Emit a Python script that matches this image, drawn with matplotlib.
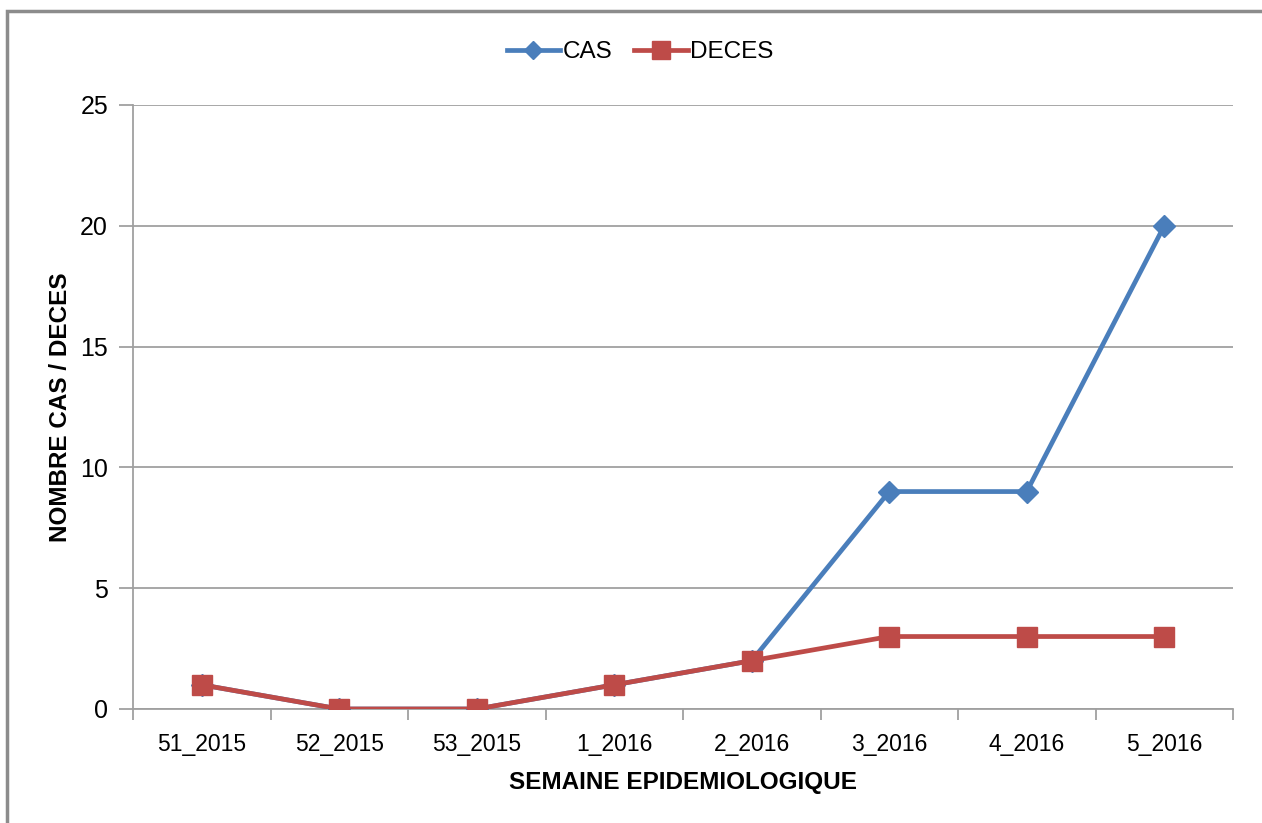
import matplotlib
matplotlib.use("Agg")
import matplotlib.pyplot as plt
from matplotlib.patches import Rectangle
from matplotlib.ticker import FixedLocator, NullFormatter, FixedFormatter

weeks = ["51_2015", "52_2015", "53_2015", "1_2016", "2_2016", "3_2016", "4_2016", "5_2016"]
cas = [1, 0, 0, 1, 2, 9, 9, 20]
deces = [1, 0, 0, 1, 2, 3, 3, 3]
yticks = [0, 5, 10, 15, 20, 25]

REG = ['Liberation Sans', 'DejaVu Sans']

W, H = 1262, 823
fig = plt.figure(figsize=(W / 100, H / 100), dpi=100)
fig.patch.set_facecolor("white")

ax = fig.add_axes([133 / W, (H - 709) / H, 1100 / W, 604 / H])

x = list(range(len(weeks)))
blue = "#4A7EBB"
red = "#BE4B48"
ax.plot(x, cas, color=blue, lw=3.4, marker="D", ms=11, mec=blue, mfc=blue,
        label="CAS", zorder=3, solid_joinstyle="round")
ax.plot(x, deces, color=red, lw=3.4, marker="s", ms=15, mec=red, mfc=red,
        label="DECES", zorder=4, solid_joinstyle="round")

ax.set_xlim(-0.5, len(weeks) - 0.5)
ax.set_ylim(0, 25)
ax.set_yticks(yticks)
ax.yaxis.grid(True, color="#A0A0A0", lw=1.3)
ax.set_axisbelow(True)

# x ticks: marks at category boundaries, labels at centers
bounds = [i - 0.5 for i in range(len(weeks) + 1)]
ax.xaxis.set_major_locator(FixedLocator(bounds))
ax.xaxis.set_major_formatter(NullFormatter())
ax.xaxis.set_minor_locator(FixedLocator(x))
ax.xaxis.set_minor_formatter(FixedFormatter(weeks))
ax.tick_params(axis="x", which="major", length=8, width=1.3, color="#A0A0A0", direction="out")
ax.tick_params(axis="x", which="minor", length=0, pad=17)
ax.tick_params(axis="y", length=10, width=1.3, color="#A0A0A0", pad=8)

for lab in ax.get_xticklabels(minor=True):
    lab.set_family(REG)
    lab.set_fontsize(16.5)
for lab in ax.get_yticklabels():
    lab.set_family(REG)
    lab.set_fontsize(18)

for side in ["top", "right"]:
    ax.spines[side].set_visible(False)
for side in ["left", "bottom"]:
    ax.spines[side].set_color("#A0A0A0")
    ax.spines[side].set_linewidth(1.3)

ax.set_xlabel("SEMAINE EPIDEMIOLOGIQUE", family=REG, fontweight="bold",
              fontsize=17.5, labelpad=11)
ax.set_ylabel("NOMBRE CAS / DECES", family=REG, fontweight="bold",
              fontsize=17.5, labelpad=6)

leg = fig.legend(loc="center", bbox_to_anchor=(640 / W, (H - 52) / H), ncol=2,
                 frameon=False, prop={"family": REG, "size": 17.5},
                 handlelength=2.2, handletextpad=0.1, columnspacing=0.9,
                 markerscale=0.85)

# outer frame (partially cropped like reference)
fig.patches.append(Rectangle((7 / W, -0.1), 1.2, (H - 11) / H + 0.1,
                             transform=fig.transFigure, fill=False,
                             edgecolor="#8C8C8C", lw=2.5, zorder=0))

fig.savefig("out.png", dpi=100, facecolor="white")
